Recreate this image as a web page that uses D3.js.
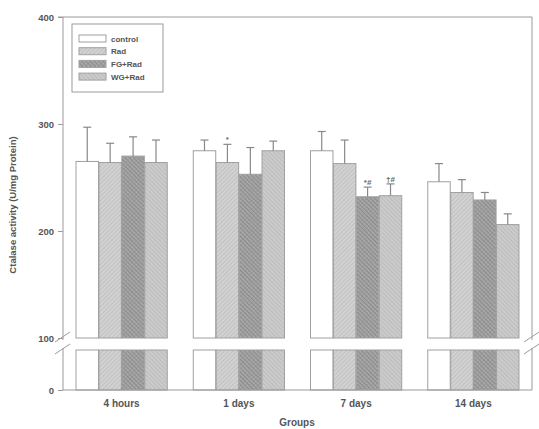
<!DOCTYPE html>
<html>
<head>
<meta charset="utf-8">
<script src="https://cdn.jsdelivr.net/npm/d3@7"></script>
<style>
  body { margin: 0; background: #fff; }
  svg { font-family: Arial, "Liberation Sans", sans-serif; }
  .tick text { fill: #555; font-weight: bold; }
</style>
</head>
<body>
<div id="svg-container"></div>
<script>
// data
const groups = ["4 hours", "1 days", "7 days", "14 days"];
const series = ["control", "Rad", "FG+Rad", "WG+Rad"];
const means = [
  [265, 264, 270, 264],
  [275, 264, 253, 275],
  [275, 263, 232, 233],
  [246, 236, 229, 206]
];
const errTops = [
  [297, 282, 288, 285],
  [285, 281, 278, 284],
  [293, 285, 241, 244],
  [263, 248, 236, 216]
];
const marks = [
  ["", "", "", ""],
  ["", "*", "", ""],
  ["", "", "*#", "\u2020#"],
  ["", "", "", ""]
];
const yTicks = [100, 200, 300, 400];

const width = 539, height = 429;
const mLeft = 63, mRight = 532, mTop = 17;
const mBottom = 390, upperBottom = 338, lowerTop = 350;

const svg = d3.select("#svg-container").append("svg")
  .attr("width", width).attr("height", height);

// patterns
const defs = svg.append("defs");
function hatch(id, bg, fg, angle, size) {
  const p = defs.append("pattern").attr("id", id)
    .attr("patternUnits", "userSpaceOnUse")
    .attr("width", size).attr("height", size)
    .attr("patternTransform", `rotate(${angle})`);
  p.append("rect").attr("width", size).attr("height", size).attr("fill", bg);
  p.append("line").attr("x1", 0).attr("y1", 0).attr("x2", 0).attr("y2", size)
    .attr("stroke", fg).attr("stroke-width", 1);
  return p;
}
hatch("p-rad", "#d2d2d2", "#b0b0b0", 45, 3);
const fgPat = hatch("p-fg", "#a9a9a9", "#8c8c8c", 45, 3);
fgPat.append("line").attr("x1", 0).attr("y1", 1.5).attr("x2", 3).attr("y2", 1.5)
  .attr("stroke", "#8c8c8c").attr("stroke-width", 1);
hatch("p-wg", "#cbcbcb", "#adadad", -45, 3);

const fills = ["#ffffff", "url(#p-rad)", "url(#p-fg)", "url(#p-wg)"];

// scales
const x0 = d3.scaleBand().domain(groups).range([mLeft, mRight])
  .paddingInner(0.214).paddingOuter(0.107);
const x1 = d3.scaleBand().domain(series).range([0, x0.bandwidth()]).padding(0.02);
const y = d3.scaleLinear().domain([100, 400]).range([upperBottom, mTop]);
const yLow = d3.scaleLinear().domain([0, 37]).range([mBottom, lowerTop]);

const gray = "#9a9a9a";

// bars, upper part and lower part
const gGroup = svg.append("g").selectAll("g").data(groups).join("g")
  .attr("transform", d => `translate(${x0(d)},0)`);

gGroup.each(function (g, gi) {
  const sel = d3.select(this);
  series.forEach((s, si) => {
    const bx = x1(s), bw = x1.bandwidth();
    const v = means[gi][si];
    sel.append("rect")
      .attr("x", bx).attr("y", y(v))
      .attr("width", bw).attr("height", upperBottom - y(v))
      .attr("fill", fills[si]).attr("stroke", "#a0a0a0").attr("stroke-width", 1);
    sel.append("rect")
      .attr("x", bx).attr("y", lowerTop)
      .attr("width", bw).attr("height", mBottom - lowerTop)
      .attr("fill", fills[si]).attr("stroke", "#a0a0a0").attr("stroke-width", 1);
    // error bar
    const cx = bx + bw / 2;
    sel.append("line").attr("x1", cx).attr("x2", cx)
      .attr("y1", y(v)).attr("y2", y(errTops[gi][si]))
      .attr("stroke", "#888").attr("stroke-width", 1.2);
    sel.append("line").attr("x1", cx - 4).attr("x2", cx + 4)
      .attr("y1", y(errTops[gi][si])).attr("y2", y(errTops[gi][si]))
      .attr("stroke", "#888").attr("stroke-width", 1.2);
    if (marks[gi][si]) {
      sel.append("text").attr("x", cx).attr("y", y(errTops[gi][si]) - 2)
        .attr("text-anchor", "middle").attr("font-size", 8).attr("font-weight", "bold")
        .attr("fill", "#666").text(marks[gi][si]);
    }
  });
});

// frame
svg.append("line").attr("x1", mLeft).attr("x2", mRight).attr("y1", mTop).attr("y2", mTop)
  .attr("stroke", gray);
svg.append("line").attr("x1", mRight).attr("x2", mRight).attr("y1", mTop).attr("y2", upperBottom + 2)
  .attr("stroke", gray);
svg.append("line").attr("x1", mRight).attr("x2", mRight).attr("y1", lowerTop - 2).attr("y2", mBottom)
  .attr("stroke", gray);

// y axis (upper)
const yAxis = d3.axisLeft(y).tickValues(yTicks).tickSize(5).tickPadding(4);
const ya = svg.append("g").attr("transform", `translate(${mLeft},0)`).call(yAxis);
ya.select(".domain").attr("d", `M-5,${mTop}H0V${upperBottom + 2}`);
ya.selectAll("line, path").attr("stroke", gray);
ya.selectAll("text").attr("font-size", 9.5);

// y axis (lower)
const yAxisLow = d3.axisLeft(yLow).tickValues([0]).tickSize(5).tickPadding(4);
const yl = svg.append("g").attr("transform", `translate(${mLeft},0)`).call(yAxisLow);
yl.select(".domain").attr("d", `M0,${lowerTop - 2}V${mBottom}`);
yl.selectAll("line, path").attr("stroke", gray);
yl.selectAll("text").attr("font-size", 9.5);

// break marks
[[mLeft, upperBottom], [mLeft, lowerTop], [mRight, upperBottom], [mRight, lowerTop]].forEach(([bx, by]) => {
  svg.append("line").attr("x1", bx - 8).attr("y1", by + 4).attr("x2", bx + 7).attr("y2", by - 6)
    .attr("stroke", gray).attr("stroke-width", 1);
});

// x axis
const xAxis = d3.axisBottom(x0).tickSize(3).tickPadding(7);
const xa = svg.append("g").attr("transform", `translate(0,${mBottom})`).call(xAxis);
xa.select(".domain").attr("d", `M${mLeft},0H${mRight}`);
xa.selectAll("line, path").attr("stroke", gray);
xa.selectAll("line").attr("y2", -3);
xa.selectAll("text").attr("font-size", 10);

// axis titles
svg.append("text")
  .attr("transform", `translate(16,205) rotate(-90)`)
  .attr("text-anchor", "middle").attr("font-size", 9.5).attr("font-weight", "bold")
  .attr("fill", "#555").text("Ctalase activity (U/mg Protein)");
svg.append("text").attr("x", 297).attr("y", 426)
  .attr("text-anchor", "middle").attr("font-size", 10).attr("font-weight", "bold")
  .attr("fill", "#555").text("Groups");

// legend
const lg = svg.append("g").attr("transform", "translate(72,24)");
lg.append("rect").attr("width", 91).attr("height", 68)
  .attr("fill", "#fff").attr("stroke", gray);
series.forEach((s, i) => {
  const ry = 11 + i * 12.7;
  lg.append("rect").attr("x", 7).attr("y", ry).attr("width", 27).attr("height", 7)
    .attr("fill", fills[i]).attr("stroke", "#a0a0a0");
  lg.append("text").attr("x", 39).attr("y", ry + 6.5)
    .attr("font-size", 8).attr("font-weight", "bold").attr("fill", "#555").text(s);
});
</script>
</body>
</html>
